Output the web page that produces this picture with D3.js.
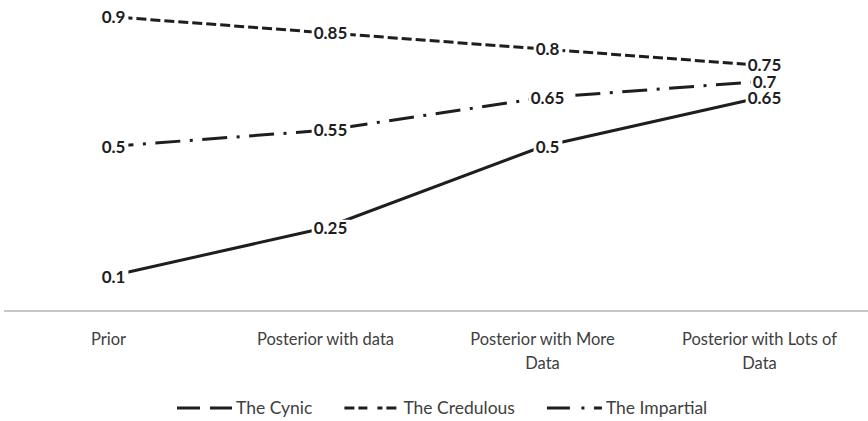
<!DOCTYPE html>
<html>
<head>
<meta charset="utf-8">
<script src="https://cdn.jsdelivr.net/npm/d3@7/dist/d3.min.js"></script>
<style>
  html, body { margin: 0; padding: 0; background: #fff; }
  svg { display: block; }
</style>
</head>
<body>
<div id="chart"></div>
<script>
// Belief in a hypothesis as evidence accumulates, for three kinds of reasoner
const categories = ["Prior", "Posterior with data", "Posterior with More Data", "Posterior with Lots of Data"];
const seriesNames = ["The Cynic", "The Credulous", "The Impartial"];
const cynic = [0.1, 0.25, 0.5, 0.65];
const credulous = [0.9, 0.85, 0.8, 0.75];
const impartial = [0.5, 0.55, 0.65, 0.7];
const dashStyles = ["none", "10 4", "25 9.5 3 9.5"];

const W = 868, H = 421;
const series = [cynic, credulous, impartial].map((values, i) => ({
  name: seriesNames[i],
  dash: dashStyles[i],
  values
}));

const svg = d3.select("#chart").append("svg")
  .attr("width", W).attr("height", H);

const x = d3.scaleBand().domain(categories).range([0, W]);
const y = d3.scaleLinear().domain([0, 1]).range([309, -16]);
const cx = c => x(c) + x.bandwidth() / 2;

const ink = "#1e1e1e";
const grey = "#404040";

// category axis (baseline only, no ticks)
const axis = d3.axisBottom(x).tickSize(0).tickPadding(0);
const gAxis = svg.append("g").attr("transform", "translate(0,311)").call(axis);
gAxis.select(".domain").attr("d", `M4,0H${W}`).attr("stroke", "#c8c8c8").attr("stroke-width", 2);
gAxis.selectAll(".tick text").remove();

// wrapped category labels
const catFont = "16.5px Lato";
const catG = svg.append("g");
categories.forEach(c => {
  const t = catG.append("text")
    .attr("x", cx(c)).attr("y", 345)
    .attr("text-anchor", "middle")
    .style("font", catFont).attr("fill", grey);
  const words = c.split(" ");
  let line = [];
  let tspan = t.append("tspan").attr("x", cx(c)).attr("dy", 0);
  words.forEach(w => {
    line.push(w);
    tspan.text(line.join(" "));
    if (tspan.node().getComputedTextLength() > 165 && line.length > 1) {
      line.pop();
      tspan.text(line.join(" "));
      line = [w];
      tspan = t.append("tspan").attr("x", cx(c)).attr("dy", 24).text(w);
    }
  });
});

// series lines
const lineGen = d3.line()
  .x((d, i) => cx(categories[i]))
  .y(d => y(d));

svg.append("g").selectAll("path")
  .data(series)
  .join("path")
  .attr("d", d => lineGen(d.values))
  .attr("fill", "none")
  .attr("stroke", ink)
  .attr("stroke-width", 3)
  .attr("stroke-dasharray", d => d.dash === "none" ? null : d.dash);

// value labels on white boxes
const labG = svg.append("g");
series.forEach(s => {
  s.values.forEach((v, i) => {
    const g = labG.append("g")
      .attr("transform", `translate(${cx(categories[i]) + 5},${y(v)})`);
    const rect = g.append("rect").attr("fill", "#fff");
    const t = g.append("text")
      .attr("text-anchor", "middle")
      .attr("dy", "0.36em")
      .style("font", "bold 17px Lato")
      .attr("fill", ink)
      .text(d3.format("")(v));
    const bb = t.node().getBBox();
    rect.attr("x", bb.x - 2).attr("y", -8)
      .attr("width", bb.width + 5).attr("height", 16);
  });
});

// legend
const legG = svg.append("g").attr("transform", "translate(0,408)");
let lx = 177;
series.forEach(s => {
  const item = legG.append("g").attr("transform", `translate(${lx},0)`);
  item.append("line")
    .attr("x1", 0).attr("x2", 55).attr("y1", 0).attr("y2", 0)
    .attr("stroke", ink).attr("stroke-width", 3)
    .attr("stroke-dasharray", s.dash === "none" ? null : s.dash);
  item.append("rect").attr("x", 23).attr("y", -5).attr("width", 10).attr("height", 10).attr("fill", "#fff");
  const t = item.append("text")
    .attr("x", 59).attr("dy", "0.35em")
    .style("font", "17.5px Lato").attr("fill", grey)
    .text(s.name);
  lx += 59 + t.node().getComputedTextLength() + 32;
});
</script>
</body>
</html>
